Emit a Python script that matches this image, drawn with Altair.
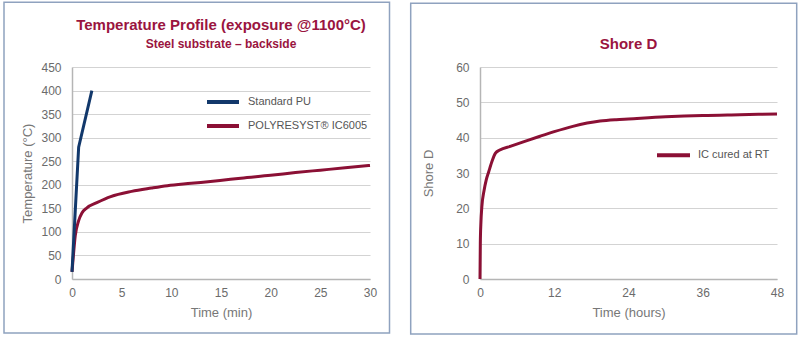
import altair as alt
import pandas as pd

# ---------------- data ----------------
pu_time = [0, 0.67, 2.0]
pu_temp = [15, 280, 400]

ic_time = [0, 0.1, 0.33, 0.67, 1.0, 1.5, 2.5, 3.9, 6, 8, 9.6, 12, 14.9, 17, 20, 22.5, 25, 27.5, 30]
ic_temp = [15, 40, 92, 124, 140, 151, 162, 175, 186, 193, 198, 203, 209, 214, 220, 226, 231, 236, 241]

sh_time = [0, 0.05, 0.15, 0.3, 0.65, 1.0, 1.4, 2.0, 2.5, 3.2, 5, 7, 9.7, 12, 15, 19.4, 22, 24, 30, 36, 42, 48]
sh_val = [0, 10, 16, 20.5, 25, 28, 30.3, 33.6, 35.6, 36.5, 37.6, 38.8, 40.4, 41.7, 43.2, 44.7, 45.1, 45.3, 45.9, 46.3, 46.5, 46.7]

left_title = "Temperature Profile (exposure @1100°C)"
left_subtitle = "Steel substrate – backside"
left_series = ["Standard PU", "POLYRESYST® IC6005"]
right_title = "Shore D"
right_series = ["IC cured at RT"]

left_xticks = [0, 5, 10, 15, 20, 25, 30]
left_yticks = [0, 50, 100, 150, 200, 250, 300, 350, 400, 450]
right_xticks = [0, 12, 24, 36, 48]
right_yticks = [0, 10, 20, 30, 40, 50, 60]

# ---------------- style ----------------
BLUE = "#12386b"
RED = "#8b1035"
TITLE_RED = "#9a1440"
BORDER = "#8fa2bf"
FONT = "Liberation Sans"
LBL = "#6b6b6b"

W, H = 298, 212
RW, RH = 297, 212

one = alt.Data(values=[{"k": 1}])

def axis_x(title, ticks):
    return alt.Axis(title=title, values=ticks, grid=False, ticks=False, domain=True,
                    domainColor="#b5b5b5", domainWidth=1.5, labelPadding=8, labelFlush=False,
                    labelFont=FONT, labelFontSize=12, labelColor=LBL,
                    titleFont=FONT, titleFontSize=13, titleColor="#777777",
                    titleFontWeight="normal", titlePadding=8)

def axis_y(title, ticks, tx, th):
    return alt.Axis(title=title, values=ticks, grid=True, gridColor="#d3d3d3", gridWidth=1,
                    ticks=False, domain=True, domainColor="#b5b5b5", domainWidth=1.5,
                    labelPadding=11, labelFont=FONT, labelFontSize=12, labelColor=LBL,
                    titleFont=FONT, titleFontSize=13, titleColor="#777777",
                    titleFontWeight="normal", titleX=tx, titleY=th / 2,
                    titleAngle=270, titleBaseline="middle", titleAlign="center")

def border(x1, x2, y1, y2):
    return alt.Chart(one).mark_rect(fill=None, stroke=BORDER, strokeWidth=1.5).encode(
        x=alt.value(x1), x2=alt.value(x2), y=alt.value(y1), y2=alt.value(y2))

def text(t, x, y, size, color, weight="normal", align="center"):
    return alt.Chart(one).mark_text(text=t, font=FONT, fontSize=size, color=color,
                                    fontWeight=weight, align=align, baseline="middle").encode(
        x=alt.value(x), y=alt.value(y))

def legend_line(x1, x2, y, color):
    return alt.Chart(one).mark_rule(color=color, strokeWidth=4).encode(
        x=alt.value(x1), x2=alt.value(x2), y=alt.value(y))

# ---------------- left chart ----------------
pu_df = pd.DataFrame({"t": pu_time, "v": pu_temp})
ic_df = pd.DataFrame({"t": ic_time, "v": ic_temp})

xl = alt.X("t:Q", scale=alt.Scale(domain=[0, 30], nice=False), axis=axis_x("Time (min)", left_xticks))
yl = alt.Y("v:Q", scale=alt.Scale(domain=[0, 450], nice=False),
           axis=axis_y("Temperature (°C)", left_yticks, -45, H))

ic_line = alt.Chart(ic_df).mark_line(color=RED, strokeWidth=3, interpolate="monotone").encode(x=xl, y=yl)
pu_line = alt.Chart(pu_df).mark_line(color=BLUE, strokeWidth=3).encode(x=xl, y=yl)

left = alt.layer(
    border(-68, 317.5, -64.7, 266),
    ic_line,
    pu_line,
    text(left_title, W / 2, -42.5, 15, TITLE_RED, "bold"),
    text(left_subtitle, W / 2, -23.5, 12, TITLE_RED, "bold"),
    legend_line(135, 167, 35, BLUE),
    text(left_series[0], 176, 35, 11, "#555555", align="left"),
    legend_line(135, 167, 59, RED),
    text(left_series[1], 176, 59, 11, "#555555", align="left"),
).properties(width=W, height=H)

# ---------------- right chart ----------------
sh_df = pd.DataFrame({"t": sh_time, "v": sh_val})
xr = alt.X("t:Q", scale=alt.Scale(domain=[0, 48], nice=False), axis=axis_x("Time (hours)", right_xticks))
yr = alt.Y("v:Q", scale=alt.Scale(domain=[0, 60], nice=False),
           axis=axis_y("Shore D", right_yticks, -52, RH))

sh_line = alt.Chart(sh_df).mark_line(color=RED, strokeWidth=3, interpolate="monotone").encode(x=xr, y=yr)

right = alt.layer(
    border(-69.3, 316.7, -63.7, 267),
    sh_line,
    text(right_title, RW / 2, -23.5, 15, TITLE_RED, "bold"),
    legend_line(177, 210, 88.3, RED),
    text(right_series[0], 218, 88.3, 11, "#555555", align="left"),
).properties(width=RW, height=RH)

chart = alt.hconcat(left, right, spacing=18).properties(
    padding={"left": 3, "top": 1, "right": 0, "bottom": 0},
    background="white",
).configure_view(stroke=None)

chart.save("out.html", embed_options={"renderer": "svg", "actions": False})
